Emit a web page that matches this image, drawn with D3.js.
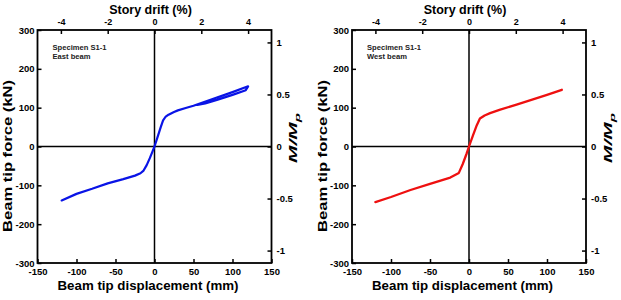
<!DOCTYPE html>
<html><head><meta charset="utf-8">
<script src="https://cdn.jsdelivr.net/npm/d3@7"></script>
<style>
html,body{margin:0;padding:0;background:#fff;}
svg{display:block;font-family:"Liberation Sans",Arial,sans-serif;}
</style></head>
<body><svg id="c" width="621" height="300"></svg>
<script>
// ---- data ----
const eastDisp  = [-119,-100,-80,-60,-40,-25,-18,-14,-10,-6,-3,0,4,8,11,14,18,25,30,40,50,60,80,100,120,117,100,80,65,55];
const eastForce = [-139,-122,-109,-95,-84,-75,-69,-62,-48,-30,-15,0,25,50,67,76,82,89,93,99,105,112,126,140,155,145,133,120,111,107];
const westDisp  = [-120,-100,-75,-50,-24,-13,-8,-3,0,5,10,14,20,27,40,61,80,100,119];
const westForce = [-143,-130,-112,-96,-80,-68,-45,-18,0,28,55,72,80,86,95,108,120,133,146];
const forceTicks = [-300,-200,-100,0,100,200,300];
const dispTicks  = [-150,-100,-50,0,50,100,150];
const driftTicks = [-4,-2,0,2,4];
const momentTicks = [-1,-0.5,0,0.5,1];
const panels = [
  {name:"Specimen S1-1", sub:"East beam", disp:eastDisp, force:eastForce, color:"#0a14e6", width:2.2},
  {name:"Specimen S1-1", sub:"West beam", disp:westDisp, force:westForce, color:"#ee1010", width:2.3}
];
const MpForce = 268;   // kN corresponding to M/Mp = 1
const mmPerDrift = 30; // mm per 1% story drift

const svg = d3.select("#c");
const lefts = [37.5, 352];
const W = 234, T = 30, B = 263;

panels.forEach((p, i) => {
  const L = lefts[i], R = L + W;
  const x = d3.scaleLinear().domain([-150,150]).range([L,R]);
  const y = d3.scaleLinear().domain([-300,300]).range([B,T]);
  const xd = d3.scaleLinear().domain([-150/mmPerDrift,150/mmPerDrift]).range([L,R]);
  const ym = d3.scaleLinear().domain([-300/MpForce,300/MpForce]).range([B,T]);
  const g = svg.append("g");

  // zero lines
  g.append("line").attr("x1",x(0)).attr("x2",x(0)).attr("y1",T).attr("y2",B).attr("stroke","#000").attr("stroke-width",1.5);
  g.append("line").attr("x1",L).attr("x2",R).attr("y1",y(0)).attr("y2",y(0)).attr("stroke","#000").attr("stroke-width",1.5);

  // data
  const pts = p.disp.map((d,k)=>[d,p.force[k]]);
  g.append("path").datum(pts)
    .attr("d", d3.line().x(d=>x(d[0])).y(d=>y(d[1])))
    .attr("fill","none").attr("stroke",p.color).attr("stroke-width",p.width)
    .attr("stroke-linejoin","round").attr("stroke-linecap","round");

  // axes
  const fmt = d => String(d);
  const ax = (axis, tr) => {
    const a = g.append("g").attr("transform",tr).call(axis);
    a.select(".domain").remove();
    a.selectAll(".tick line").attr("stroke","#000").attr("stroke-width",1.5);
    a.selectAll("text").attr("font-family","Liberation Sans, Arial, sans-serif")
      .attr("font-weight","bold").attr("font-size","9.5px").attr("fill","#000");
    return a;
  };
  ax(d3.axisLeft(y).tickValues(forceTicks).tickFormat(fmt).tickSizeInner(-4).tickSizeOuter(0).tickPadding(3), `translate(${L},0)`);
  ax(d3.axisBottom(x).tickValues(dispTicks).tickFormat(fmt).tickSizeInner(-4).tickSizeOuter(0).tickPadding(5), `translate(0,${B})`);
  const top = ax(d3.axisTop(xd).tickValues(driftTicks).tickFormat(fmt).tickSizeInner(-4).tickSizeOuter(0).tickPadding(5), `translate(0,${T})`);
  top.selectAll("text").attr("font-size","9px");
  ax(d3.axisRight(ym).tickValues(momentTicks).tickFormat(fmt).tickSizeInner(-4).tickSizeOuter(0).tickPadding(5), `translate(${R},0)`);

  // frame
  g.append("rect").attr("x",L).attr("y",T).attr("width",W).attr("height",B-T)
    .attr("fill","none").attr("stroke","#000").attr("stroke-width",1.8);

  // titles
  g.append("text").attr("x",L+113).attr("y",13.5).attr("text-anchor","middle")
    .attr("font-weight","bold").attr("font-size","12.5px").text("Story drift (%)");
  g.append("text").attr("x",L+110.5).attr("y",290).attr("text-anchor","middle")
    .attr("font-weight","bold").attr("font-size","13.3px").text("Beam tip displacement (mm)");
  g.append("text").attr("transform",`translate(${L-25.5},156) rotate(-90)`).attr("text-anchor","middle")
    .attr("font-weight","bold").attr("font-size","12px")
    .attr("textLength",152).attr("lengthAdjust","spacingAndGlyphs").text("Beam tip force (kN)");
  const mt = g.append("text").attr("transform",`translate(${R+25.5},138) rotate(-90)`).attr("text-anchor","middle")
    .attr("font-weight","bold").attr("font-style","italic").attr("font-size","11px")
    .attr("textLength",50).attr("lengthAdjust","spacingAndGlyphs");
  mt.append("tspan").text("M/M");
  mt.append("tspan").attr("font-size","8px").attr("dy",3).text("p");

  // annotation
  g.append("text").attr("x",L+15).attr("y",50).attr("font-weight","bold").attr("font-size","7.6px").attr("fill","#222").text(p.name);
  g.append("text").attr("x",L+15).attr("y",58.5).attr("font-weight","bold").attr("font-size","7.6px").attr("fill","#222").text(p.sub);
});
</script></body></html>
